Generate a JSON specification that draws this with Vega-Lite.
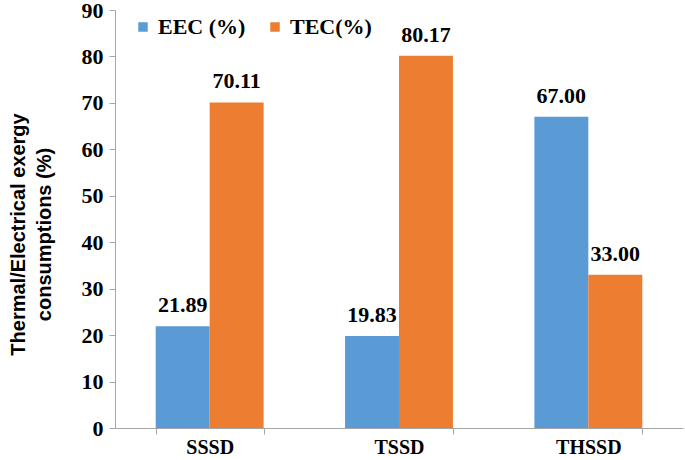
{
  "$schema": "https://vega.github.io/schema/vega-lite/v6.json",
  "width": 568,
  "height": 418,
  "autosize": {"type": "none"},
  "padding": {"left": 115, "top": 10, "right": 2, "bottom": 32},
  "background": "white",
  "data": {"values": [
    {"cat": "SSSD", "series": "EEC (%)", "value": 21.89},
    {"cat": "SSSD", "series": "TEC(%)", "value": 70.11},
    {"cat": "TSSD", "series": "EEC (%)", "value": 19.83},
    {"cat": "TSSD", "series": "TEC(%)", "value": 80.17},
    {"cat": "THSSD", "series": "EEC (%)", "value": 67.0},
    {"cat": "THSSD", "series": "TEC(%)", "value": 33.0}
  ]},
  "encoding": {
    "x": {"field": "cat", "type": "nominal", "sort": ["SSSD", "TSSD", "THSSD"],
      "scale": {"paddingInner": 0.43, "paddingOuter": 0.215},
      "axis": {"title": null, "labelAngle": 0, "tickBand": "extent", "domainColor": "#a6a6a6", "tickColor": "#a6a6a6", "tickSize": 6, "labelFont": "Liberation Serif", "labelFontWeight": "bold", "labelFontSize": 20, "labelColor": "black", "labelPadding": 3, "grid": false}},
    "xOffset": {"field": "series", "type": "nominal", "scale": {"paddingInner": 0}},
    "y": {"field": "value", "type": "quantitative", "scale": {"domain": [0, 90]},
      "axis": {"title": ["Thermal/Electrical exergy", "consumptions (%)"], "titleFont": "Liberation Sans", "titleFontWeight": "bold", "titleFontSize": 20, "titleColor": "black", "titleAlign": "center", "titleY": 224, "titlePadding": 27, "titleLineHeight": 26, "values": [0,10,20,30,40,50,60,70,80,90], "labelOverlap": false, "grid": false, "domainColor": "#a6a6a6", "tickColor": "#a6a6a6", "tickSize": 6, "labelFont": "Liberation Serif", "labelFontWeight": "bold", "labelFontSize": 22, "labelColor": "black", "labelPadding": 6}},
    "color": {"field": "series", "type": "nominal", "scale": {"range": ["#5B9BD5", "#ED7D31"]},
      "legend": {"title": null, "orient": "none", "legendX": 17, "legendY": 6, "direction": "horizontal", "symbolType": "square", "symbolSize": 90, "symbolStrokeWidth": 0, "labelFont": "Liberation Serif", "labelFontWeight": "bold", "labelFontSize": 22, "labelColor": "black", "columnPadding": 18, "labelOffset": 4}}
  },
  "layer": [
    {"mark": {"type": "bar"}},
    {"mark": {"type": "text", "baseline": "bottom", "dy": -9, "font": "Liberation Serif", "fontWeight": "bold", "fontSize": 22},
      "encoding": {"text": {"field": "value", "type": "quantitative", "format": ".2f"}, "color": {"value": "black"}}}
  ],
  "config": {"view": {"stroke": null}}
}
